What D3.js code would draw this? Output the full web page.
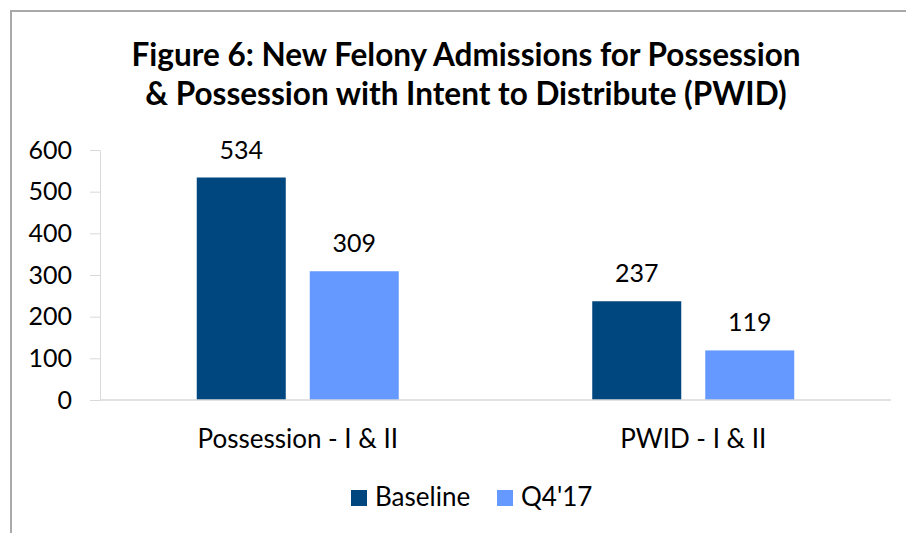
<!DOCTYPE html>
<html lang='en'>
	<head>
		<meta charset='utf-8'>
		<title>Figure 6</title>
		<script src="https://d3js.org/d3.v7.min.js"></script>
		<style>
			html, body { margin: 0; padding: 0; background: #fff; }
			svg { display: block; }
			text { font-family: Lato, 'Open Sans', sans-serif; fill: #000; }
		</style>
	</head>
	<body>
		<div class='visHolder'></div>
		<script>
			// data
			var categories = ['Possession - I & II', 'PWID - I & II'];
			var seriesNames = ['Baseline', "Q4'17"];
			var baselineValues = [534, 237];
			var q4Values = [309, 119];
			var yTicks = [0, 100, 200, 300, 400, 500, 600];
			var titleLines = ['Figure 6: New Felony Admissions for Possession',
				'& Possession with Intent to Distribute (PWID)'];

			var colors = ['#00467f', '#6699ff'];
			var width = 906,
					height = 533,
					fontSize = '26px';

			var svg = d3.select('.visHolder')
				.append('svg')
				.attr('width', width)
				.attr('height', height);

			// chart frame (only left and top edges are in view)
			svg.append('path')
				.attr('d', 'M11,' + height + 'V11H' + width)
				.attr('fill', 'none')
				.attr('stroke', '#a9a9a9')
				.attr('stroke-width', 2);

			// title
			svg.append('g').selectAll('text')
				.data(titleLines)
				.enter()
				.append('text')
				.attr('x', 466)
				.attr('y', function(d, i) { return 66 + i * 39; })
				.attr('text-anchor', 'middle')
				.style('font-weight', 'bold')
				.style('font-size', '31.5px')
				.text(function(d) { return d; });

			var xScale = d3.scaleBand()
				.domain(categories)
				.range([100, 891]);

			var bw = xScale.bandwidth();
			var xInner = d3.scaleBand()
				.domain(seriesNames)
				.range([(bw - 202) / 2, (bw + 202) / 2])
				.paddingInner(24 / 113);

			var yScale = d3.scaleLinear()
				.domain([0, 600])
				.range([400, 150]);

			var yAxis = d3.axisLeft(yScale)
				.tickValues(yTicks)
				.tickSize(10)
				.tickSizeOuter(0)
				.tickPadding(18);

			var yAxisGroup = svg.append('g')
				.attr('transform', 'translate(100, 0)')
				.call(yAxis);
			yAxisGroup.selectAll('path, line').attr('stroke', '#d9d9d9');
			yAxisGroup.selectAll('text')
				.style('font-size', '25px')
				.style('font-family', 'Lato, sans-serif')
				.attr('fill', '#000');

			var rows = categories.map(function(c, i) {
				return { cat: c, values: [baselineValues[i], q4Values[i]] };
			});

			var groups = svg.append('g').selectAll('g')
				.data(rows)
				.enter()
				.append('g')
				.attr('transform', function(d) { return 'translate(' + xScale(d.cat) + ',0)'; });

			groups.selectAll('rect')
				.data(function(d) { return d.values; })
				.enter()
				.append('rect')
				.attr('x', function(d, i) { return xInner(seriesNames[i]); })
				.attr('y', function(d) { return yScale(d); })
				.attr('width', xInner.bandwidth())
				.attr('height', function(d) { return yScale(0) - yScale(d); })
				.attr('fill', function(d, i) { return colors[i]; });

			groups.selectAll('text.value')
				.data(function(d) { return d.values; })
				.enter()
				.append('text')
				.attr('class', 'value')
				.attr('x', function(d, i) { return xInner(seriesNames[i]) + xInner.bandwidth() / 2; })
				.attr('y', function(d) { return yScale(d) - 19; })
				.attr('text-anchor', 'middle')
				.style('font-size', '25px')
				.text(function(d) { return d; });

			// category axis
			svg.append('line')
				.attr('x1', 100)
				.attr('x2', 891)
				.attr('y1', yScale(0))
				.attr('y2', yScale(0))
				.attr('stroke', '#d9d9d9')
				.attr('stroke-width', 1.5);

			svg.append('g').selectAll('text')
				.data(categories)
				.enter()
				.append('text')
				.attr('x', function(d) { return xScale(d) + bw / 2; })
				.attr('y', 448)
				.attr('text-anchor', 'middle')
				.style('font-size', fontSize)
				.text(function(d) { return d; });

			// legend
			var legendX = [351, 497];
			var legend = svg.append('g').selectAll('g')
				.data(seriesNames)
				.enter()
				.append('g')
				.attr('transform', function(d, i) { return 'translate(' + legendX[i] + ',490)'; });
			legend.append('rect')
				.attr('width', 16)
				.attr('height', 16)
				.attr('fill', function(d, i) { return colors[i]; });
			legend.append('text')
				.attr('x', 24)
				.attr('y', 16)
				.style('font-size', fontSize)
				.text(function(d) { return d; });
		</script>
	</body>
</html>
